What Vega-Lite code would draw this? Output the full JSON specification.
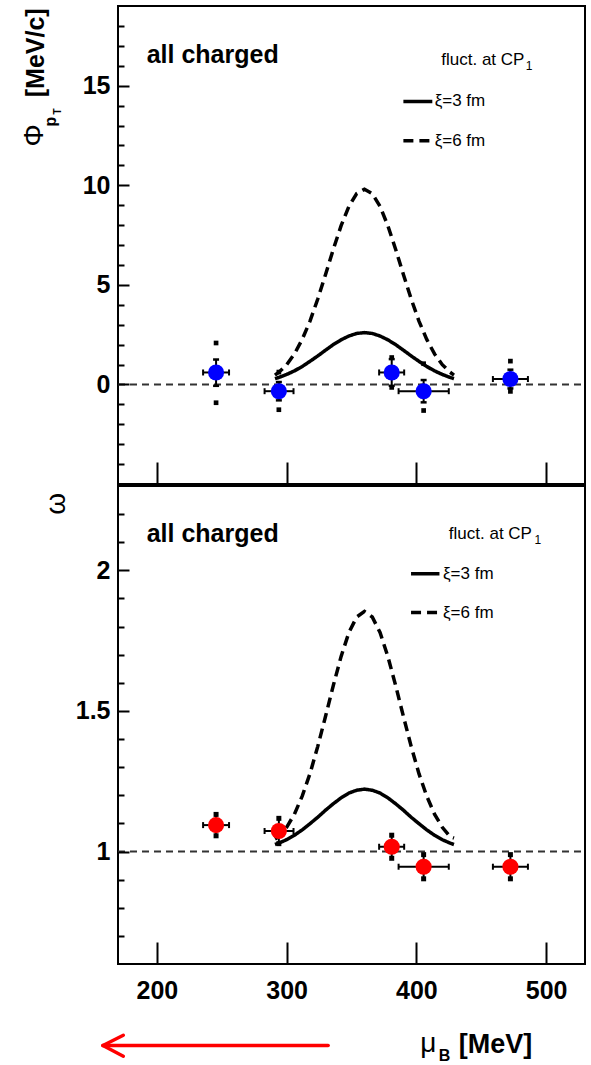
{
  "$schema": "https://vega.github.io/schema/vega-lite/v6.json",
  "background": "white",
  "padding": {"left": 19, "top": 5, "right": 4, "bottom": 2},
  "spacing": -2,
  "config": {
    "font": "Liberation Sans",
    "view": {"stroke": "black", "strokeWidth": 2},
    "axis": {"grid": false}
  },
  "datasets": {
    "curves_top": [
      {"xi": "3 fm", "mu": 291, "v": 0.29}, {"xi": "3 fm", "mu": 294, "v": 0.35}, {"xi": "3 fm", "mu": 300, "v": 0.5}, {"xi": "3 fm", "mu": 306, "v": 0.68}, {"xi": "3 fm", "mu": 312, "v": 0.9}, {"xi": "3 fm", "mu": 318, "v": 1.16}, {"xi": "3 fm", "mu": 324, "v": 1.43}, {"xi": "3 fm", "mu": 330, "v": 1.72}, {"xi": "3 fm", "mu": 336, "v": 2.0}, {"xi": "3 fm", "mu": 342, "v": 2.24}, {"xi": "3 fm", "mu": 348, "v": 2.43}, {"xi": "3 fm", "mu": 354, "v": 2.56}, {"xi": "3 fm", "mu": 360, "v": 2.6}, {"xi": "3 fm", "mu": 366, "v": 2.56}, {"xi": "3 fm", "mu": 372, "v": 2.43}, {"xi": "3 fm", "mu": 378, "v": 2.24}, {"xi": "3 fm", "mu": 384, "v": 2.0}, {"xi": "3 fm", "mu": 390, "v": 1.72}, {"xi": "3 fm", "mu": 396, "v": 1.43}, {"xi": "3 fm", "mu": 402, "v": 1.16}, {"xi": "3 fm", "mu": 408, "v": 0.9}, {"xi": "3 fm", "mu": 414, "v": 0.68}, {"xi": "3 fm", "mu": 420, "v": 0.5}, {"xi": "3 fm", "mu": 426, "v": 0.35}, {"xi": "3 fm", "mu": 429, "v": 0.29},
      {"xi": "6 fm", "mu": 291, "v": 0.47}, {"xi": "6 fm", "mu": 294, "v": 0.61}, {"xi": "6 fm", "mu": 300, "v": 0.99}, {"xi": "6 fm", "mu": 306, "v": 1.53}, {"xi": "6 fm", "mu": 312, "v": 2.26}, {"xi": "6 fm", "mu": 318, "v": 3.18}, {"xi": "6 fm", "mu": 324, "v": 4.29}, {"xi": "6 fm", "mu": 330, "v": 5.52}, {"xi": "6 fm", "mu": 336, "v": 6.79}, {"xi": "6 fm", "mu": 342, "v": 7.97}, {"xi": "6 fm", "mu": 348, "v": 8.94}, {"xi": "6 fm", "mu": 354, "v": 9.58}, {"xi": "6 fm", "mu": 360, "v": 9.8}, {"xi": "6 fm", "mu": 366, "v": 9.58}, {"xi": "6 fm", "mu": 372, "v": 8.94}, {"xi": "6 fm", "mu": 378, "v": 7.97}, {"xi": "6 fm", "mu": 384, "v": 6.79}, {"xi": "6 fm", "mu": 390, "v": 5.52}, {"xi": "6 fm", "mu": 396, "v": 4.29}, {"xi": "6 fm", "mu": 402, "v": 3.18}, {"xi": "6 fm", "mu": 408, "v": 2.26}, {"xi": "6 fm", "mu": 414, "v": 1.53}, {"xi": "6 fm", "mu": 420, "v": 0.99}, {"xi": "6 fm", "mu": 426, "v": 0.61}, {"xi": "6 fm", "mu": 429, "v": 0.47}
    ],
    "curves_bot": [
      {"xi": "3 fm", "mu": 291, "v": 1.025}, {"xi": "3 fm", "mu": 294, "v": 1.03}, {"xi": "3 fm", "mu": 300, "v": 1.042}, {"xi": "3 fm", "mu": 306, "v": 1.058}, {"xi": "3 fm", "mu": 312, "v": 1.077}, {"xi": "3 fm", "mu": 318, "v": 1.099}, {"xi": "3 fm", "mu": 324, "v": 1.122}, {"xi": "3 fm", "mu": 330, "v": 1.147}, {"xi": "3 fm", "mu": 336, "v": 1.17}, {"xi": "3 fm", "mu": 342, "v": 1.191}, {"xi": "3 fm", "mu": 348, "v": 1.208}, {"xi": "3 fm", "mu": 354, "v": 1.218}, {"xi": "3 fm", "mu": 360, "v": 1.222}, {"xi": "3 fm", "mu": 366, "v": 1.218}, {"xi": "3 fm", "mu": 372, "v": 1.208}, {"xi": "3 fm", "mu": 378, "v": 1.191}, {"xi": "3 fm", "mu": 384, "v": 1.17}, {"xi": "3 fm", "mu": 390, "v": 1.147}, {"xi": "3 fm", "mu": 396, "v": 1.122}, {"xi": "3 fm", "mu": 402, "v": 1.099}, {"xi": "3 fm", "mu": 408, "v": 1.077}, {"xi": "3 fm", "mu": 414, "v": 1.058}, {"xi": "3 fm", "mu": 420, "v": 1.042}, {"xi": "3 fm", "mu": 426, "v": 1.03}, {"xi": "3 fm", "mu": 429, "v": 1.025},
      {"xi": "6 fm", "mu": 291, "v": 1.045}, {"xi": "6 fm", "mu": 294, "v": 1.053}, {"xi": "6 fm", "mu": 300, "v": 1.086}, {"xi": "6 fm", "mu": 306, "v": 1.133}, {"xi": "6 fm", "mu": 312, "v": 1.197}, {"xi": "6 fm", "mu": 318, "v": 1.277}, {"xi": "6 fm", "mu": 324, "v": 1.374}, {"xi": "6 fm", "mu": 330, "v": 1.481}, {"xi": "6 fm", "mu": 336, "v": 1.591}, {"xi": "6 fm", "mu": 342, "v": 1.694}, {"xi": "6 fm", "mu": 348, "v": 1.779}, {"xi": "6 fm", "mu": 354, "v": 1.834}, {"xi": "6 fm", "mu": 360, "v": 1.854}, {"xi": "6 fm", "mu": 366, "v": 1.834}, {"xi": "6 fm", "mu": 372, "v": 1.779}, {"xi": "6 fm", "mu": 378, "v": 1.694}, {"xi": "6 fm", "mu": 384, "v": 1.591}, {"xi": "6 fm", "mu": 390, "v": 1.481}, {"xi": "6 fm", "mu": 396, "v": 1.374}, {"xi": "6 fm", "mu": 402, "v": 1.277}, {"xi": "6 fm", "mu": 408, "v": 1.197}, {"xi": "6 fm", "mu": 414, "v": 1.133}, {"xi": "6 fm", "mu": 420, "v": 1.086}, {"xi": "6 fm", "mu": 426, "v": 1.053}, {"xi": "6 fm", "mu": 429, "v": 1.048}
    ],
    "legend_top": [
      {"xi": "3 fm", "mu": 390, "v": 14.21}, {"xi": "3 fm", "mu": 412.3, "v": 14.21},
      {"xi": "6 fm", "mu": 390, "v": 12.24}, {"xi": "6 fm", "mu": 412.3, "v": 12.24}
    ],
    "legend_bot": [
      {"xi": "3 fm", "mu": 395.9, "v": 1.988}, {"xi": "3 fm", "mu": 417.8, "v": 1.988},
      {"xi": "6 fm", "mu": 395.9, "v": 1.85}, {"xi": "6 fm", "mu": 417.8, "v": 1.85}
    ],
    "pts_top": [
      {"mu": 245.6, "xl": 235.6, "xh": 255.6, "v": 0.6, "vl": -0.07, "vh": 1.25, "sl": -0.92, "sh": 2.08},
      {"mu": 294, "xl": 283, "xh": 305.3, "v": -0.34, "vl": -0.8, "vh": 0.12, "sl": -1.27, "sh": 0.62},
      {"mu": 381, "xl": 371.3, "xh": 390.6, "v": 0.6, "vl": -0.07, "vh": 1.27, "sl": -0.15, "sh": 1.35},
      {"mu": 405.6, "xl": 386.3, "xh": 425, "v": -0.34, "vl": -0.9, "vh": 0.22, "sl": -1.31, "sh": 1.04},
      {"mu": 472.5, "xl": 459, "xh": 486, "v": 0.27, "vl": -0.2, "vh": 0.74, "sl": -0.35, "sh": 1.17}
    ],
    "pts_bot": [
      {"mu": 245.6, "xl": 235.6, "xh": 255.6, "v": 1.094, "vl": 1.056, "vh": 1.132},
      {"mu": 294, "xl": 283, "xh": 305.3, "v": 1.073, "vl": 1.028, "vh": 1.118},
      {"mu": 381, "xl": 371.3, "xh": 390.6, "v": 1.017, "vl": 0.976, "vh": 1.058},
      {"mu": 405.6, "xl": 386.3, "xh": 425, "v": 0.946, "vl": 0.903, "vh": 0.989},
      {"mu": 472.5, "xl": 459, "xh": 486, "v": 0.946, "vl": 0.903, "vh": 0.989}
    ],
    "notes_top": [
      {"id": "head", "mu": 192.1, "v": 16.15, "t": "all charged"},
      {"id": "cp", "mu": 483.3, "v": 16.06, "t": "fluct. at CP"},
      {"id": "sub", "mu": 484.3, "v": 15.81, "t": "1"},
      {"id": "leg", "mu": 414.1, "v": 14.21, "t": "ξ=3 fm"},
      {"id": "leg", "mu": 414.1, "v": 12.24, "t": "ξ=6 fm"},
      {"id": "phi", "mu": 106, "v": 12.51, "t": "Φ"},
      {"id": "p", "mu": 118.5, "v": 13.2, "t": "p"},
      {"id": "T", "mu": 123.5, "v": 13.7, "t": "T"},
      {"id": "unit", "mu": 106.7, "v": 16.65, "t": "[MeV/c]"}
    ],
    "notes_bot": [
      {"id": "head", "mu": 192.1, "v": 2.10, "t": "all charged"},
      {"id": "cp", "mu": 489.1, "v": 2.1124, "t": "fluct. at CP"},
      {"id": "sub", "mu": 491, "v": 2.0947, "t": "1"},
      {"id": "leg", "mu": 420.5, "v": 1.988, "t": "ξ=3 fm"},
      {"id": "leg", "mu": 420.5, "v": 1.85, "t": "ξ=6 fm"},
      {"id": "omega", "mu": 123.3, "v": 2.2365, "t": "ω"},
      {"id": "mu", "mu": 403, "v": 0.2887, "t": "μ"},
      {"id": "B", "mu": 417.2, "v": 0.254, "t": "B"},
      {"id": "unit", "mu": 432.6, "v": 0.2837, "t": "[MeV]"}
    ],
    "arrow": [
      {"x1": 158.4, "y1": 0.31, "x2": 332, "y2": 0.31},
      {"x1": 158.4, "y1": 0.31, "x2": 174.1, "y2": 0.3465},
      {"x1": 158.4, "y1": 0.31, "x2": 174.1, "y2": 0.272}
    ]
  },
  "vconcat": [
    {
      "width": 467,
      "height": 478,
      "resolve": {"axis": {"x": "independent", "y": "independent"}},
      "layer": [
        {
          "data": {"values": [{"a": 170, "b": 530, "v": 0}]},
          "mark": {"type": "rule", "color": "#333", "strokeWidth": 2, "strokeDash": [7, 5]},
          "encoding": {
            "x": {"field": "a", "type": "quantitative", "scale": {"domain": [170, 530], "nice": false, "zero": false},
              "axis": {"orient": "bottom", "values": [200, 300, 400, 500], "offset": -22, "tickSize": 22, "tickWidth": 2, "tickColor": "black", "labels": false, "domain": false, "grid": false, "title": null, "zindex": 1}},
            "x2": {"field": "b"},
            "y": {"field": "v", "type": "quantitative", "scale": {"domain": [-5, 19], "nice": false, "zero": false},
              "axis": {"orient": "left", "values": [0, 5, 10, 15], "format": "d", "offset": -11, "tickSize": 11, "tickWidth": 2, "tickColor": "black", "labelFontSize": 25, "labelFontWeight": "bold", "labelColor": "black", "labelPadding": 8, "labelFont": "Liberation Sans", "labelOverlap": false, "domain": false, "grid": false, "title": null, "zindex": 1}}
          }
        },
        {
          "data": {"name": "curves_top"},
          "mark": {"type": "line", "color": "black", "strokeWidth": 3.5},
          "encoding": {
            "x": {"field": "mu", "type": "quantitative", "scale": {"domain": [170, 530], "nice": false, "zero": false}, "axis": null},
            "y": {"field": "v", "type": "quantitative", "scale": {"domain": [-5, 19], "nice": false, "zero": false}, "axis": null},
            "strokeDash": {"field": "xi", "type": "nominal", "scale": {"domain": ["3 fm", "6 fm"], "range": [[1, 0], [10, 6]]}, "legend": null}
          }
        },
        {
          "data": {"name": "legend_top"},
          "mark": {"type": "line", "color": "black", "strokeWidth": 3.5},
          "encoding": {
            "x": {"field": "mu", "type": "quantitative", "scale": {"domain": [170, 530], "nice": false, "zero": false}, "axis": null},
            "y": {"field": "v", "type": "quantitative", "scale": {"domain": [-5, 19], "nice": false, "zero": false}, "axis": null},
            "strokeDash": {"field": "xi", "type": "nominal", "scale": {"domain": ["3 fm", "6 fm"], "range": [[1, 0], [10, 6]]}, "legend": null}
          }
        },
        {
          "data": {"name": "pts_top"},
          "mark": {"type": "rule", "color": "black", "strokeWidth": 2},
          "encoding": {
            "x": {"field": "xl", "type": "quantitative", "scale": {"domain": [170, 530], "nice": false, "zero": false}, "axis": null},
            "x2": {"field": "xh"},
            "y": {"field": "v", "type": "quantitative", "scale": {"domain": [-5, 19], "nice": false, "zero": false},
              "axis": {"orient": "left", "values": [-4, -3, -2, -1, 1, 2, 3, 4, 6, 7, 8, 9, 11, 12, 13, 14, 16, 17, 18], "offset": -6, "tickSize": 6, "tickWidth": 2, "tickColor": "black", "labels": false, "domain": false, "grid": false, "title": null, "zindex": 1}}
          }
        },
        {
          "data": {"name": "pts_top"},
          "mark": {"type": "rule", "color": "black", "strokeWidth": 2},
          "encoding": {
            "x": {"field": "mu", "type": "quantitative", "scale": {"domain": [170, 530], "nice": false, "zero": false}, "axis": null},
            "y": {"field": "vl", "type": "quantitative", "scale": {"domain": [-5, 19], "nice": false, "zero": false}, "axis": null},
            "y2": {"field": "vh"}
          }
        },
        {
          "data": {"name": "pts_top"},
          "transform": [{"fold": ["xl", "xh"], "as": ["end", "xc"]}],
          "mark": {"type": "point", "shape": "M0,-1L0,1", "size": 36, "filled": false, "color": "black", "strokeWidth": 2, "opacity": 1},
          "encoding": {
            "x": {"field": "xc", "type": "quantitative", "scale": {"domain": [170, 530], "nice": false, "zero": false}, "axis": null},
            "y": {"field": "v", "type": "quantitative", "scale": {"domain": [-5, 19], "nice": false, "zero": false}, "axis": null}
          }
        },
        {
          "data": {"name": "pts_top"},
          "transform": [{"fold": ["vl", "vh"], "as": ["end", "yc"]}],
          "mark": {"type": "point", "shape": "M-1,0L1,0", "size": 36, "filled": false, "color": "black", "strokeWidth": 2.5, "opacity": 1},
          "encoding": {
            "x": {"field": "mu", "type": "quantitative", "scale": {"domain": [170, 530], "nice": false, "zero": false}, "axis": null},
            "y": {"field": "yc", "type": "quantitative", "scale": {"domain": [-5, 19], "nice": false, "zero": false}, "axis": null}
          }
        },
        {
          "data": {"name": "pts_top"},
          "transform": [{"fold": ["sl", "sh"], "as": ["end", "ys"]}],
          "mark": {"type": "point", "shape": "square", "size": 22, "filled": true, "color": "black", "opacity": 1},
          "encoding": {
            "x": {"field": "mu", "type": "quantitative", "scale": {"domain": [170, 530], "nice": false, "zero": false}, "axis": null},
            "y": {"field": "ys", "type": "quantitative", "scale": {"domain": [-5, 19], "nice": false, "zero": false}, "axis": null}
          }
        },
        {
          "data": {"name": "pts_top"},
          "mark": {"type": "point", "shape": "circle", "size": 260, "filled": true, "color": "#0000ff", "opacity": 1},
          "encoding": {
            "x": {"field": "mu", "type": "quantitative", "scale": {"domain": [170, 530], "nice": false, "zero": false}, "axis": null},
            "y": {"field": "v", "type": "quantitative", "scale": {"domain": [-5, 19], "nice": false, "zero": false}, "axis": null}
          }
        },
        {
          "data": {"name": "notes_top"},
          "transform": [{"filter": "datum.id === 'head'"}],
          "mark": {"type": "text", "fontWeight": "bold", "fontSize": 25, "align": "left", "baseline": "alphabetic", "color": "black"},
          "encoding": {
            "x": {"field": "mu", "type": "quantitative", "scale": {"domain": [170, 530], "nice": false, "zero": false}, "axis": null},
            "y": {"field": "v", "type": "quantitative", "scale": {"domain": [-5, 19], "nice": false, "zero": false}, "axis": null},
            "text": {"field": "t"}
          }
        },
        {
          "data": {"name": "notes_top"},
          "transform": [{"filter": "datum.id === 'cp'"}],
          "mark": {"type": "text", "fontSize": 17, "align": "right", "baseline": "alphabetic", "color": "black"},
          "encoding": {
            "x": {"field": "mu", "type": "quantitative", "scale": {"domain": [170, 530], "nice": false, "zero": false}, "axis": null},
            "y": {"field": "v", "type": "quantitative", "scale": {"domain": [-5, 19], "nice": false, "zero": false}, "axis": null},
            "text": {"field": "t"}
          }
        },
        {
          "data": {"name": "notes_top"},
          "transform": [{"filter": "datum.id === 'sub'"}],
          "mark": {"type": "text", "fontSize": 12, "align": "left", "baseline": "alphabetic", "color": "black"},
          "encoding": {
            "x": {"field": "mu", "type": "quantitative", "scale": {"domain": [170, 530], "nice": false, "zero": false}, "axis": null},
            "y": {"field": "v", "type": "quantitative", "scale": {"domain": [-5, 19], "nice": false, "zero": false}, "axis": null},
            "text": {"field": "t"}
          }
        },
        {
          "data": {"name": "notes_top"},
          "transform": [{"filter": "datum.id === 'leg'"}],
          "mark": {"type": "text", "fontSize": 17, "align": "left", "baseline": "middle", "color": "black"},
          "encoding": {
            "x": {"field": "mu", "type": "quantitative", "scale": {"domain": [170, 530], "nice": false, "zero": false}, "axis": null},
            "y": {"field": "v", "type": "quantitative", "scale": {"domain": [-5, 19], "nice": false, "zero": false}, "axis": null},
            "text": {"field": "t"}
          }
        },
        {
          "data": {"name": "notes_top"},
          "transform": [{"filter": "datum.id === 'phi'"}],
          "mark": {"type": "text", "fontSize": 28, "angle": 270, "align": "center", "baseline": "middle", "color": "black"},
          "encoding": {
            "x": {"field": "mu", "type": "quantitative", "scale": {"domain": [170, 530], "nice": false, "zero": false}, "axis": null},
            "y": {"field": "v", "type": "quantitative", "scale": {"domain": [-5, 19], "nice": false, "zero": false}, "axis": null},
            "text": {"field": "t"}
          }
        },
        {
          "data": {"name": "notes_top"},
          "transform": [{"filter": "datum.id === 'p'"}],
          "mark": {"type": "text", "fontSize": 16, "fontWeight": "bold", "angle": 270, "align": "center", "baseline": "middle", "color": "black"},
          "encoding": {
            "x": {"field": "mu", "type": "quantitative", "scale": {"domain": [170, 530], "nice": false, "zero": false}, "axis": null},
            "y": {"field": "v", "type": "quantitative", "scale": {"domain": [-5, 19], "nice": false, "zero": false}, "axis": null},
            "text": {"field": "t"}
          }
        },
        {
          "data": {"name": "notes_top"},
          "transform": [{"filter": "datum.id === 'T'"}],
          "mark": {"type": "text", "fontSize": 10, "fontWeight": "bold", "angle": 270, "align": "center", "baseline": "middle", "color": "black"},
          "encoding": {
            "x": {"field": "mu", "type": "quantitative", "scale": {"domain": [170, 530], "nice": false, "zero": false}, "axis": null},
            "y": {"field": "v", "type": "quantitative", "scale": {"domain": [-5, 19], "nice": false, "zero": false}, "axis": null},
            "text": {"field": "t"}
          }
        },
        {
          "data": {"name": "notes_top"},
          "transform": [{"filter": "datum.id === 'unit'"}],
          "mark": {"type": "text", "fontSize": 25, "fontWeight": "bold", "angle": 270, "align": "center", "baseline": "middle", "color": "black"},
          "encoding": {
            "x": {"field": "mu", "type": "quantitative", "scale": {"domain": [170, 530], "nice": false, "zero": false}, "axis": null},
            "y": {"field": "v", "type": "quantitative", "scale": {"domain": [-5, 19], "nice": false, "zero": false}, "axis": null},
            "text": {"field": "t"}
          }
        }
      ]
    },
    {
      "width": 467,
      "height": 478,
      "resolve": {"axis": {"x": "independent", "y": "independent"}},
      "layer": [
        {
          "data": {"values": [{"a": 170, "b": 530, "v": 1}]},
          "mark": {"type": "rule", "color": "#333", "strokeWidth": 2, "strokeDash": [7, 5]},
          "encoding": {
            "x": {"field": "a", "type": "quantitative", "scale": {"domain": [170, 530], "nice": false, "zero": false},
              "axis": {"orient": "bottom", "values": [200, 300, 400, 500], "format": "d", "offset": -22, "tickSize": 22, "tickWidth": 2, "tickColor": "black", "labels": true, "labelFontSize": 25, "labelFontWeight": "bold", "labelColor": "black", "labelPadding": 14, "labelFont": "Liberation Sans", "labelOverlap": false, "labelFlush": false, "domain": false, "grid": false, "title": null, "zindex": 1}},
            "x2": {"field": "b"},
            "y": {"field": "v", "type": "quantitative", "scale": {"domain": [0.6, 2.3], "nice": false, "zero": false},
              "axis": {"orient": "left", "values": [1, 1.5, 2], "format": "~g", "offset": -11, "tickSize": 11, "tickWidth": 2, "tickColor": "black", "labelFontSize": 25, "labelFontWeight": "bold", "labelColor": "black", "labelPadding": 8, "labelFont": "Liberation Sans", "labelOverlap": false, "domain": false, "grid": false, "title": null, "zindex": 1}}
          }
        },
        {
          "data": {"name": "curves_bot"},
          "mark": {"type": "line", "color": "black", "strokeWidth": 3.5},
          "encoding": {
            "x": {"field": "mu", "type": "quantitative", "scale": {"domain": [170, 530], "nice": false, "zero": false}, "axis": null},
            "y": {"field": "v", "type": "quantitative", "scale": {"domain": [0.6, 2.3], "nice": false, "zero": false}, "axis": null},
            "strokeDash": {"field": "xi", "type": "nominal", "scale": {"domain": ["3 fm", "6 fm"], "range": [[1, 0], [10, 6]]}, "legend": null}
          }
        },
        {
          "data": {"name": "legend_bot"},
          "mark": {"type": "line", "color": "black", "strokeWidth": 3.5},
          "encoding": {
            "x": {"field": "mu", "type": "quantitative", "scale": {"domain": [170, 530], "nice": false, "zero": false}, "axis": null},
            "y": {"field": "v", "type": "quantitative", "scale": {"domain": [0.6, 2.3], "nice": false, "zero": false}, "axis": null},
            "strokeDash": {"field": "xi", "type": "nominal", "scale": {"domain": ["3 fm", "6 fm"], "range": [[1, 0], [10, 6]]}, "legend": null}
          }
        },
        {
          "data": {"name": "pts_bot"},
          "mark": {"type": "rule", "color": "black", "strokeWidth": 2},
          "encoding": {
            "x": {"field": "xl", "type": "quantitative", "scale": {"domain": [170, 530], "nice": false, "zero": false}, "axis": null},
            "x2": {"field": "xh"},
            "y": {"field": "v", "type": "quantitative", "scale": {"domain": [0.6, 2.3], "nice": false, "zero": false},
              "axis": {"orient": "left", "values": [0.7, 0.8, 0.9, 1.1, 1.2, 1.3, 1.4, 1.6, 1.7, 1.8, 1.9, 2.1, 2.2], "offset": -6, "tickSize": 6, "tickWidth": 2, "tickColor": "black", "labels": false, "domain": false, "grid": false, "title": null, "zindex": 1}}
          }
        },
        {
          "data": {"name": "pts_bot"},
          "mark": {"type": "rule", "color": "black", "strokeWidth": 2},
          "encoding": {
            "x": {"field": "mu", "type": "quantitative", "scale": {"domain": [170, 530], "nice": false, "zero": false}, "axis": null},
            "y": {"field": "vl", "type": "quantitative", "scale": {"domain": [0.6, 2.3], "nice": false, "zero": false}, "axis": null},
            "y2": {"field": "vh"}
          }
        },
        {
          "data": {"name": "pts_bot"},
          "transform": [{"fold": ["xl", "xh"], "as": ["end", "xc"]}],
          "mark": {"type": "point", "shape": "M0,-1L0,1", "size": 36, "filled": false, "color": "black", "strokeWidth": 2, "opacity": 1},
          "encoding": {
            "x": {"field": "xc", "type": "quantitative", "scale": {"domain": [170, 530], "nice": false, "zero": false}, "axis": null},
            "y": {"field": "v", "type": "quantitative", "scale": {"domain": [0.6, 2.3], "nice": false, "zero": false}, "axis": null}
          }
        },
        {
          "data": {"name": "pts_bot"},
          "transform": [{"fold": ["vl", "vh"], "as": ["end", "yc"]}],
          "mark": {"type": "point", "shape": "square", "size": 25, "filled": true, "color": "black", "opacity": 1},
          "encoding": {
            "x": {"field": "mu", "type": "quantitative", "scale": {"domain": [170, 530], "nice": false, "zero": false}, "axis": null},
            "y": {"field": "yc", "type": "quantitative", "scale": {"domain": [0.6, 2.3], "nice": false, "zero": false}, "axis": null}
          }
        },
        {
          "data": {"name": "pts_bot"},
          "mark": {"type": "point", "shape": "circle", "size": 260, "filled": true, "color": "#ff0000", "opacity": 1},
          "encoding": {
            "x": {"field": "mu", "type": "quantitative", "scale": {"domain": [170, 530], "nice": false, "zero": false}, "axis": null},
            "y": {"field": "v", "type": "quantitative", "scale": {"domain": [0.6, 2.3], "nice": false, "zero": false}, "axis": null}
          }
        },
        {
          "data": {"name": "arrow"},
          "mark": {"type": "rule", "color": "#ff0000", "strokeWidth": 3.5, "strokeCap": "round"},
          "encoding": {
            "x": {"field": "x1", "type": "quantitative", "scale": {"domain": [170, 530], "nice": false, "zero": false}, "axis": null},
            "x2": {"field": "x2"},
            "y": {"field": "y1", "type": "quantitative", "scale": {"domain": [0.6, 2.3], "nice": false, "zero": false}, "axis": null},
            "y2": {"field": "y2"}
          }
        },
        {
          "data": {"name": "notes_bot"},
          "transform": [{"filter": "datum.id === 'head'"}],
          "mark": {"type": "text", "fontWeight": "bold", "fontSize": 25, "align": "left", "baseline": "alphabetic", "color": "black"},
          "encoding": {
            "x": {"field": "mu", "type": "quantitative", "scale": {"domain": [170, 530], "nice": false, "zero": false}, "axis": null},
            "y": {"field": "v", "type": "quantitative", "scale": {"domain": [0.6, 2.3], "nice": false, "zero": false}, "axis": null},
            "text": {"field": "t"}
          }
        },
        {
          "data": {"name": "notes_bot"},
          "transform": [{"filter": "datum.id === 'cp'"}],
          "mark": {"type": "text", "fontSize": 17, "align": "right", "baseline": "alphabetic", "color": "black"},
          "encoding": {
            "x": {"field": "mu", "type": "quantitative", "scale": {"domain": [170, 530], "nice": false, "zero": false}, "axis": null},
            "y": {"field": "v", "type": "quantitative", "scale": {"domain": [0.6, 2.3], "nice": false, "zero": false}, "axis": null},
            "text": {"field": "t"}
          }
        },
        {
          "data": {"name": "notes_bot"},
          "transform": [{"filter": "datum.id === 'sub'"}],
          "mark": {"type": "text", "fontSize": 12, "align": "left", "baseline": "alphabetic", "color": "black"},
          "encoding": {
            "x": {"field": "mu", "type": "quantitative", "scale": {"domain": [170, 530], "nice": false, "zero": false}, "axis": null},
            "y": {"field": "v", "type": "quantitative", "scale": {"domain": [0.6, 2.3], "nice": false, "zero": false}, "axis": null},
            "text": {"field": "t"}
          }
        },
        {
          "data": {"name": "notes_bot"},
          "transform": [{"filter": "datum.id === 'leg'"}],
          "mark": {"type": "text", "fontSize": 17, "align": "left", "baseline": "middle", "color": "black"},
          "encoding": {
            "x": {"field": "mu", "type": "quantitative", "scale": {"domain": [170, 530], "nice": false, "zero": false}, "axis": null},
            "y": {"field": "v", "type": "quantitative", "scale": {"domain": [0.6, 2.3], "nice": false, "zero": false}, "axis": null},
            "text": {"field": "t"}
          }
        },
        {
          "data": {"name": "notes_bot"},
          "transform": [{"filter": "datum.id === 'omega'"}],
          "mark": {"type": "text", "fontSize": 28, "angle": 270, "align": "center", "baseline": "middle", "color": "black"},
          "encoding": {
            "x": {"field": "mu", "type": "quantitative", "scale": {"domain": [170, 530], "nice": false, "zero": false}, "axis": null},
            "y": {"field": "v", "type": "quantitative", "scale": {"domain": [0.6, 2.3], "nice": false, "zero": false}, "axis": null},
            "text": {"field": "t"}
          }
        },
        {
          "data": {"name": "notes_bot"},
          "transform": [{"filter": "datum.id === 'mu'"}],
          "mark": {"type": "text", "fontSize": 28, "align": "left", "baseline": "alphabetic", "color": "black"},
          "encoding": {
            "x": {"field": "mu", "type": "quantitative", "scale": {"domain": [170, 530], "nice": false, "zero": false}, "axis": null},
            "y": {"field": "v", "type": "quantitative", "scale": {"domain": [0.6, 2.3], "nice": false, "zero": false}, "axis": null},
            "text": {"field": "t"}
          }
        },
        {
          "data": {"name": "notes_bot"},
          "transform": [{"filter": "datum.id === 'B'"}],
          "mark": {"type": "text", "fontSize": 16, "fontWeight": "bold", "align": "left", "baseline": "alphabetic", "color": "black"},
          "encoding": {
            "x": {"field": "mu", "type": "quantitative", "scale": {"domain": [170, 530], "nice": false, "zero": false}, "axis": null},
            "y": {"field": "v", "type": "quantitative", "scale": {"domain": [0.6, 2.3], "nice": false, "zero": false}, "axis": null},
            "text": {"field": "t"}
          }
        },
        {
          "data": {"name": "notes_bot"},
          "transform": [{"filter": "datum.id === 'unit'"}],
          "mark": {"type": "text", "fontSize": 27, "fontWeight": "bold", "align": "left", "baseline": "alphabetic", "color": "black"},
          "encoding": {
            "x": {"field": "mu", "type": "quantitative", "scale": {"domain": [170, 530], "nice": false, "zero": false}, "axis": null},
            "y": {"field": "v", "type": "quantitative", "scale": {"domain": [0.6, 2.3], "nice": false, "zero": false}, "axis": null},
            "text": {"field": "t"}
          }
        }
      ]
    }
  ]
}
